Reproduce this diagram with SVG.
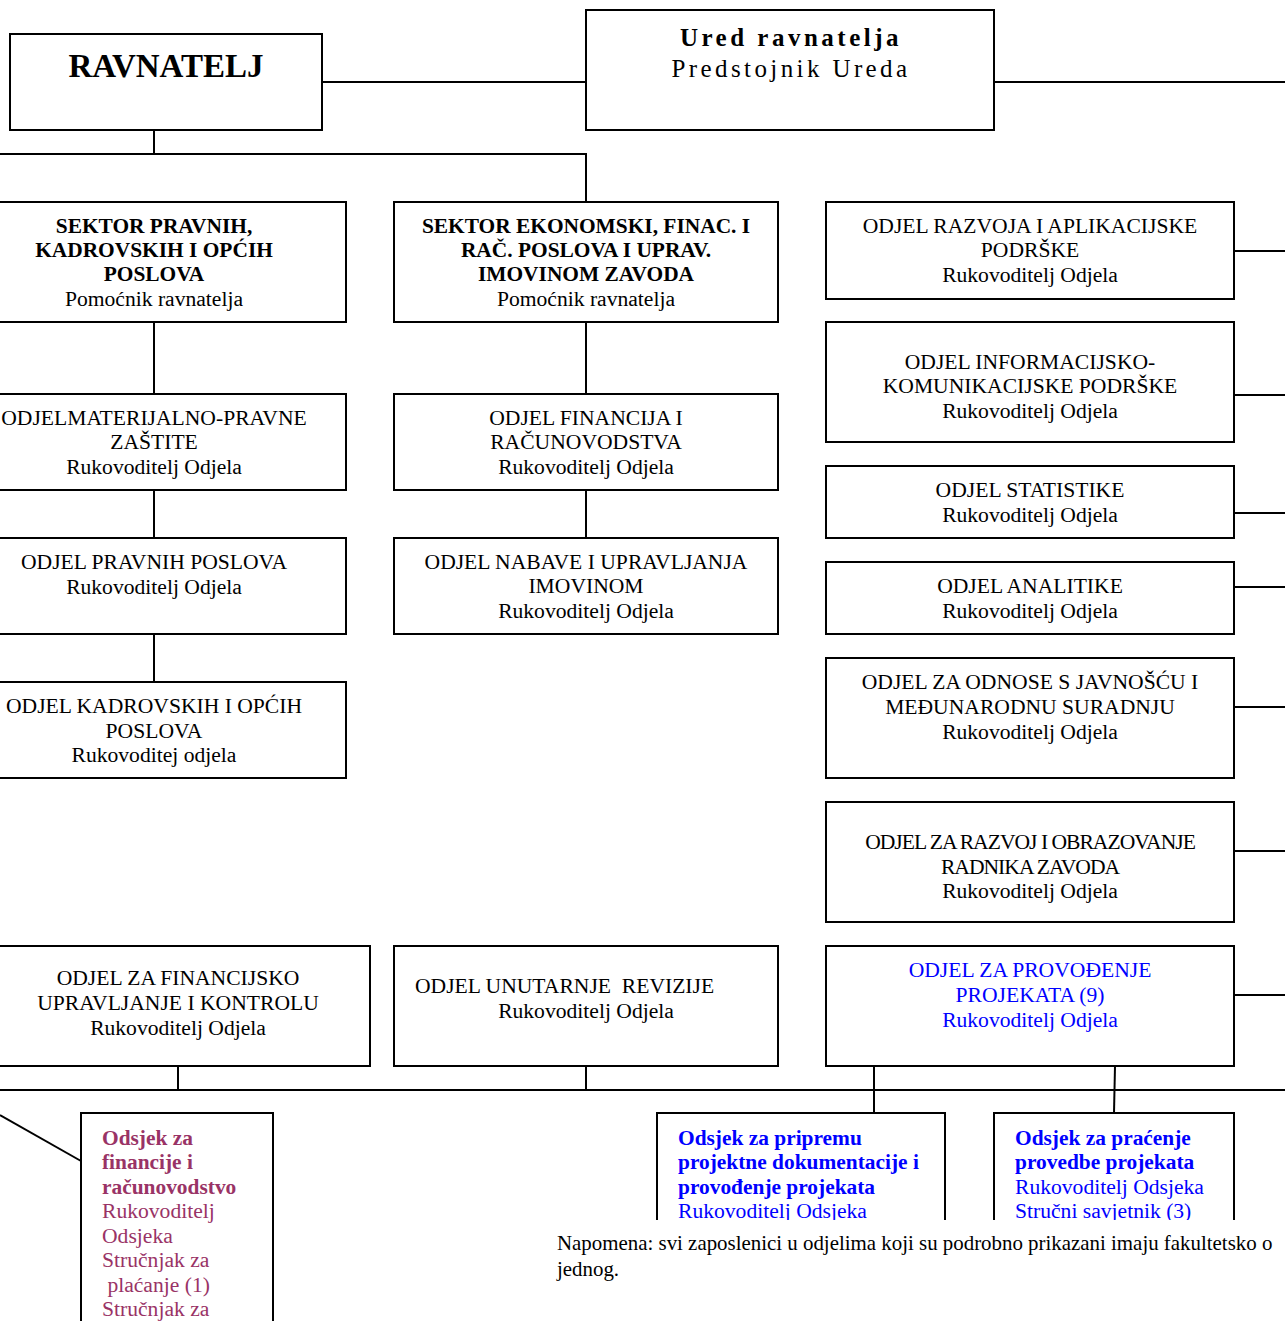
<svg xmlns="http://www.w3.org/2000/svg" width="1285" height="1321" viewBox="0 0 1285 1321">
<style>
.box{fill:#fff;stroke:#000;stroke-width:2}
.open{fill:none;stroke:#000;stroke-width:2}
.ln{fill:none;stroke:#000;stroke-width:2}
text{font-family:"Liberation Serif","Times New Roman",serif;fill:#000}
.t{font-size:21.6px;text-anchor:middle}
.b{font-size:21.4px;font-weight:bold;text-anchor:middle}
.blue{fill:#0000ff}
.mag{fill:#993366}
.l{text-anchor:start}
</style>
<defs>
<clipPath id="cut"><rect x="0" y="0" width="1285" height="1220"/></clipPath>
</defs>
<rect width="1285" height="1321" fill="#fff"/>

<g id="connectors">
<line class="ln" x1="322" y1="82" x2="586" y2="82"/>
<line class="ln" x1="994" y1="82" x2="1285" y2="82"/>
<polyline class="ln" points="154,130 154,154"/>
<polyline class="ln" points="0,154 586,154 586,202"/>
<line class="ln" x1="154" y1="322" x2="154" y2="394"/>
<line class="ln" x1="586" y1="322" x2="586" y2="394"/>
<line class="ln" x1="154" y1="490" x2="154" y2="538"/>
<line class="ln" x1="586" y1="490" x2="586" y2="538"/>
<line class="ln" x1="154" y1="634" x2="154" y2="682"/>
<line class="ln" x1="1234" y1="251" x2="1285" y2="251"/>
<line class="ln" x1="1234" y1="395" x2="1285" y2="395"/>
<line class="ln" x1="1234" y1="513" x2="1285" y2="513"/>
<line class="ln" x1="1234" y1="587" x2="1285" y2="587"/>
<line class="ln" x1="1234" y1="707" x2="1285" y2="707"/>
<line class="ln" x1="1234" y1="851" x2="1285" y2="851"/>
<line class="ln" x1="1234" y1="995" x2="1285" y2="995"/>
<line class="ln" x1="178" y1="1066" x2="178" y2="1090"/>
<line class="ln" x1="586" y1="1066" x2="586" y2="1090"/>
<line class="ln" x1="0" y1="1090" x2="1285" y2="1090"/>
<line class="ln" x1="874" y1="1066" x2="874" y2="1113"/>
<line class="ln" x1="1115" y1="1066" x2="1114" y2="1113"/>
<line class="ln" x1="0" y1="1115" x2="81" y2="1161"/>
</g>

<g id="ravnatelj">
<rect class="box" x="10" y="34" width="312" height="96"/>
<text x="166" y="77" style="font-size:33px;font-weight:bold;text-anchor:middle">RAVNATELJ</text>
</g>

<g id="ured">
<rect class="box" x="586" y="10" width="408" height="120"/>
<text x="791" y="46" style="font-size:25px;font-weight:bold;text-anchor:middle;letter-spacing:3.5px">Ured ravnatelja</text>
<text x="791" y="77" style="font-size:25px;text-anchor:middle;letter-spacing:3.4px">Predstojnik Ureda</text>
</g>

<g id="sektor-pravnih">
<rect class="box" x="-38" y="202" width="384" height="120"/>
<text class="b" x="154" y="233">SEKTOR PRAVNIH,</text>
<text class="b" x="154" y="257">KADROVSKIH I OPĆIH</text>
<text class="b" x="154" y="281">POSLOVA</text>
<text class="t" x="154" y="306">Pomoćnik ravnatelja</text>
</g>

<g id="sektor-ekonomski">
<rect class="box" x="394" y="202" width="384" height="120"/>
<text class="b" x="586" y="233">SEKTOR EKONOMSKI, FINAC. I</text>
<text class="b" x="586" y="257">RAČ. POSLOVA I UPRAV.</text>
<text class="b" x="586" y="281">IMOVINOM ZAVODA</text>
<text class="t" x="586" y="306">Pomoćnik ravnatelja</text>
</g>

<g id="odjel-materijalno">
<rect class="box" x="-38" y="394" width="384" height="96"/>
<text class="t" x="154" y="425">ODJELMATERIJALNO-PRAVNE</text>
<text class="t" x="154" y="449">ZAŠTITE</text>
<text class="t" x="154" y="474">Rukovoditelj Odjela</text>
</g>

<g id="odjel-financija">
<rect class="box" x="394" y="394" width="384" height="96"/>
<text class="t" x="586" y="425">ODJEL FINANCIJA I</text>
<text class="t" x="586" y="449">RAČUNOVODSTVA</text>
<text class="t" x="586" y="474">Rukovoditelj Odjela</text>
</g>

<g id="odjel-pravnih">
<rect class="box" x="-38" y="538" width="384" height="96"/>
<text class="t" x="154" y="569">ODJEL PRAVNIH POSLOVA</text>
<text class="t" x="154" y="594">Rukovoditelj Odjela</text>
</g>

<g id="odjel-nabave">
<rect class="box" x="394" y="538" width="384" height="96"/>
<text class="t" x="586" y="569">ODJEL NABAVE I UPRAVLJANJA</text>
<text class="t" x="586" y="593">IMOVINOM</text>
<text class="t" x="586" y="618">Rukovoditelj Odjela</text>
</g>

<g id="odjel-kadrovskih">
<rect class="box" x="-38" y="682" width="384" height="96"/>
<text class="t" x="154" y="713">ODJEL KADROVSKIH I OPĆIH</text>
<text class="t" x="154" y="738">POSLOVA</text>
<text class="t" x="154" y="762">Rukovoditej odjela</text>
</g>

<g id="odjel-razvoja">
<rect class="box" x="826" y="202" width="408" height="97"/>
<text class="t" x="1030" y="233">ODJEL RAZVOJA I APLIKACIJSKE</text>
<text class="t" x="1030" y="257">PODRŠKE</text>
<text class="t" x="1030" y="282">Rukovoditelj Odjela</text>
</g>

<g id="odjel-ikt">
<rect class="box" x="826" y="322" width="408" height="120"/>
<text class="t" x="1030" y="369">ODJEL INFORMACIJSKO-</text>
<text class="t" x="1030" y="393">KOMUNIKACIJSKE PODRŠKE</text>
<text class="t" x="1030" y="418">Rukovoditelj Odjela</text>
</g>

<g id="odjel-statistike">
<rect class="box" x="826" y="466" width="408" height="72"/>
<text class="t" x="1030" y="497">ODJEL STATISTIKE</text>
<text class="t" x="1030" y="522">Rukovoditelj Odjela</text>
</g>

<g id="odjel-analitike">
<rect class="box" x="826" y="562" width="408" height="72"/>
<text class="t" x="1030" y="593">ODJEL ANALITIKE</text>
<text class="t" x="1030" y="618">Rukovoditelj Odjela</text>
</g>

<g id="odjel-odnosi">
<rect class="box" x="826" y="658" width="408" height="120"/>
<text class="t" x="1030" y="689">ODJEL ZA ODNOSE S JAVNOŠĆU I</text>
<text class="t" x="1030" y="714">MEĐUNARODNU SURADNJU</text>
<text class="t" x="1030" y="739">Rukovoditelj Odjela</text>
</g>

<g id="odjel-obrazovanje">
<rect class="box" x="826" y="802" width="408" height="120"/>
<text class="t" x="1030" y="849" style="letter-spacing:-1px">ODJEL ZA RAZVOJ I OBRAZOVANJE</text>
<text class="t" x="1030" y="874" style="letter-spacing:-1px">RADNIKA ZAVODA</text>
<text class="t" x="1030" y="898">Rukovoditelj Odjela</text>
</g>

<g id="odjel-projekti">
<rect class="box" x="826" y="946" width="408" height="120"/>
<text class="t blue" x="1030" y="977">ODJEL ZA PROVOĐENJE</text>
<text class="t blue" x="1030" y="1002">PROJEKATA (9)</text>
<text class="t blue" x="1030" y="1027">Rukovoditelj Odjela</text>
</g>

<g id="odjel-fuk">
<rect class="box" x="-14" y="946" width="384" height="120"/>
<text class="t" x="178" y="985">ODJEL ZA FINANCIJSKO</text>
<text class="t" x="178" y="1010">UPRAVLJANJE I KONTROLU</text>
<text class="t" x="178" y="1035">Rukovoditelj Odjela</text>
</g>

<g id="odjel-revizije">
<rect class="box" x="394" y="946" width="384" height="120"/>
<text class="t l" x="415" y="993" xml:space="preserve">ODJEL UNUTARNJE  REVIZIJE</text>
<text class="t" x="586" y="1018">Rukovoditelj Odjela</text>
</g>

<g id="odsjek-financije">
<path class="open" d="M81,1330 V1113 H273 V1330"/>
<text class="b mag l" x="102" y="1145">Odsjek za</text>
<text class="b mag l" x="102" y="1169">financije i</text>
<text class="b mag l" x="102" y="1194">računovodstvo</text>
<text class="t mag l" x="102" y="1218">Rukovoditelj</text>
<text class="t mag l" x="102" y="1243">Odsjeka</text>
<text class="t mag l" x="102" y="1267">Stručnjak za</text>
<text class="t mag l" x="102" y="1292" xml:space="preserve"> plaćanje (1)</text>
<text class="t mag l" x="102" y="1316">Stručnjak za</text>
</g>

<g id="odsjek-pripremu" clip-path="url(#cut)">
<path class="open" d="M657,1230 V1113 H945 V1230"/>
<text class="b blue l" x="678" y="1145">Odsjek za pripremu</text>
<text class="b blue l" x="678" y="1169">projektne dokumentacije i</text>
<text class="b blue l" x="678" y="1194">provođenje projekata</text>
<text class="t blue l" x="678" y="1218">Rukovoditelj Odsjeka</text>
</g>

<g id="odsjek-pracenje" clip-path="url(#cut)">
<path class="open" d="M994,1230 V1113 H1234 V1230"/>
<text class="b blue l" x="1015" y="1145">Odsjek za praćenje</text>
<text class="b blue l" x="1015" y="1169">provedbe projekata</text>
<text class="t blue l" x="1015" y="1194">Rukovoditelj Odsjeka</text>
<text class="t blue l" x="1015" y="1218">Stručni savjetnik (3)</text>
</g>

<g id="napomena">
<text class="l" x="557" y="1250" style="font-size:20.9px">Napomena: svi zaposlenici u odjelima koji su podrobno prikazani imaju fakultetsko o</text>
<text class="l" x="557" y="1276" style="font-size:20.9px">jednog.</text>
</g>
</svg>
